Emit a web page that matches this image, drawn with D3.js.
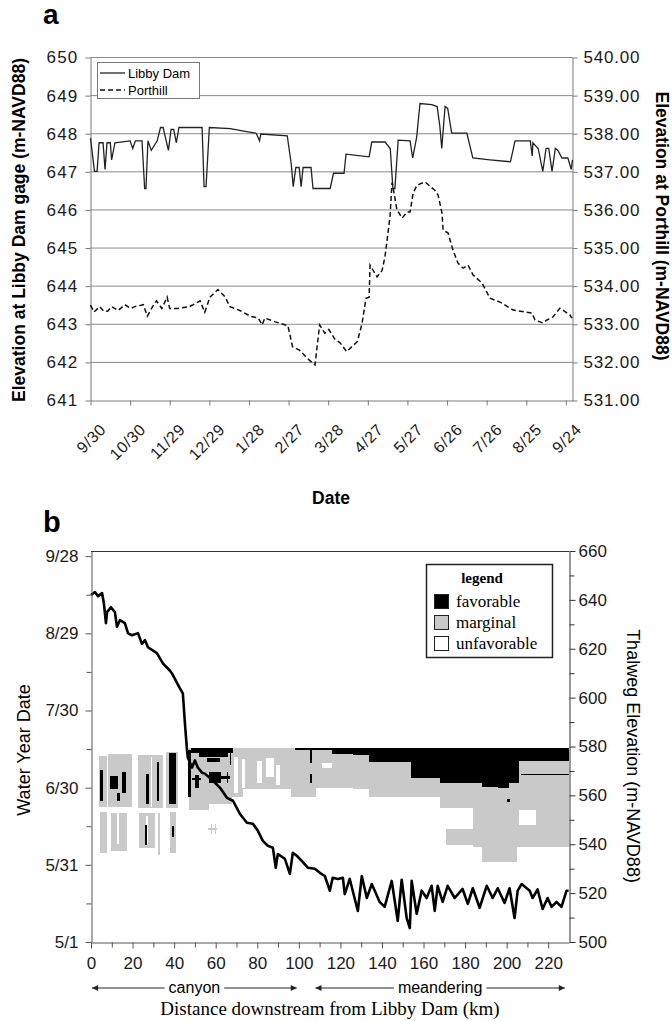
<!DOCTYPE html>
<html>
<head>
<meta charset="utf-8">
<script src="https://cdn.jsdelivr.net/npm/d3@7"></script>
<style>
body { margin: 0; background: #fff; }
</style>
</head>
<body>
<svg id="chart" width="672" height="1021"></svg>
<script>
//Panel a data: day counted from 9/30, elevation in m
var dateTicks = [0, 30, 60, 90, 120, 150, 180, 210, 240, 270, 300, 330, 360]
var dateLabels = ["9/30", "10/30", "11/29", "12/29", "1/28", "2/27", "3/28", "4/27", "5/27", "6/26", "7/26", "8/25", "9/24"]
var libbyTicks = [641, 642, 643, 644, 645, 646, 647, 648, 649, 650]
var porthillTicks = [531, 532, 533, 534, 535, 536, 537, 538, 539, 540]

var libbyDam = [[0,647.87],[3,647.0],[5,647.0],[6.5,647.75],[9.5,647.75],[11,647.05],[12.5,647.75],[15,647.75],[16,647.3],[18.5,647.75],
  [30,647.8],[32,647.6],[34,647.8],[39,647.8],[41,646.55],[42,646.55],[43.5,647.8],[46,647.55],[50.5,647.8],[53,648.15],
  [55,648.15],[59,647.55],[61,648.1],[63,648.1],[65,647.75],[67,648.15],[84.5,648.15],[86,646.6],[87.5,646.6],[90,648.15],
  [106,648.12],[117,648.05],[125.5,648.0],[128,647.8],[129,647.98],[149,647.93],[152,647.2],[153.5,646.6],[155.5,647.1],[158,647.1],
  [159.5,646.6],[161,647.1],[167,647.1],[168.5,646.55],[181.5,646.55],[184,646.95],[192,646.95],[193.5,647.45],[211,647.38],[213,647.77],
  [223,647.77],[227,647.6],[229,646.55],[230.5,646.55],[233,647.82],[242,647.8],[244,647.35],[247,647.9],[249.5,648.78],[258.5,648.75],
  [262.5,648.7],[264.5,648.2],[266,647.6],[268.5,648.7],[270.5,648.65],[273.5,648.0],[285,648.0],[289.5,647.35],[302.5,647.3],[318,647.25],
  [321.5,647.8],[333,647.8],[334.5,647.4],[335,647.75],[339,647.6],[342.5,647.0],[345,647.6],[347,647.6],[349.5,647.0],[352,647.6],
  [354,647.55],[357,647.35],[361.5,647.35],[364,647.05],[365,647.3]]

var porthill = [[0,533.49],[2.7,533.31],[7,533.45],[10,533.33],[13,533.33],[16,533.45],[21,533.35],[26,533.5],[30.5,533.4],[33.5,533.45],
  [40,533.5],[43,533.2],[47,533.45],[50,533.6],[54,533.4],[58,533.7],[60,533.4],[66,533.4],[75,533.45],[83,533.6],
  [86.5,533.3],[90.5,533.7],[96.5,533.9],[102,533.7],[105.5,533.45],[113,533.35],[121,533.2],[127,533.15],[130,532.97],[132,533.15],
  [140,533.05],[149.5,532.95],[153,532.4],[158.5,532.3],[164,532.1],[170,531.92],[173.5,532.97],[177.5,532.75],[180.5,532.85],[185,532.6],
  [189,532.5],[194,532.27],[202,532.53],[205.6,533.0],[208.6,533.67],[211,533.7],[211.7,534.54],[217,534.23],[220.8,534.4],[223,534.76],
  [226.8,535.8],[228.3,536.7],[229,536.6],[232,536.0],[235.9,535.77],[239.7,535.93],[242,535.93],[244.3,536.43],[247.3,536.64],[253.3,536.72],
  [260.9,536.5],[263.2,536.38],[266.2,535.9],[267,535.46],[270.8,535.38],[274.5,534.93],[278.3,534.59],[282.1,534.46],[285.9,534.54],[289.7,534.28],
  [296.5,534.07],[302.5,533.67],[310.1,533.57],[320,533.36],[329,533.31],[334.3,533.28],[336.6,533.1],[342.6,533.02],[345.7,533.1],[350.2,533.18],
  [355.5,533.41],[363.1,533.23],[364.6,533.15]]

//Panel b data: km downstream, day counted from 5/1, thalweg elevation in m
var kmTicks = [0, 20, 40, 60, 80, 100, 120, 140, 160, 180, 200, 220]
var kmMinor = [10, 30, 50, 70, 90, 110, 130, 150, 170, 190, 210]
var wyTicks = [0, 30, 60, 90, 120, 150]
var wyLabels = ["5/1", "5/31", "6/30", "7/30", "8/29", "9/28"]
var wyMinor = [15, 45, 75, 105, 135]
var elevTicks = [500, 520, 540, 560, 580, 600, 620, 640, 660]
var elevMinor = [510, 530, 550, 570, 590, 610, 630, 650]

var thalweg = [[0,642],[1.9,643.2],[3.4,641.5],[5.3,642.8],[6.2,638.6],[7.2,630.5],[7.7,635],[9.6,637],[11.5,635],[12.5,629],
  [13.9,631.7],[16.3,630.5],[17.8,626.4],[19.7,625.5],[22.6,626.4],[24.5,622],[26,623.5],[27.4,620.6],[31.7,618.2],[34.6,614],
  [38,611],[38.9,610],[42.8,603.8],[44.2,601.7],[45.2,589.4],[46.2,578.4],[46.6,575.5],[48.6,571.4],[50,574.3],[51.4,571.4],
  [53.4,569.3],[54.8,568.9],[58.7,566],[62,563.2],[65.4,559],[68.3,557.8],[71.6,552.5],[75,548.8],[77.9,548.4],[80.3,545.5],
  [82.7,541.4],[85.1,539.4],[87.5,538.6],[88.9,530.4],[89.9,536],[93.3,534],[95.7,527.9],[97.1,536.5],[99,535.3],[101.4,533.2],
  [104.3,530.4],[107.7,530],[110.1,528.3],[112.5,527],[114.9,521],[116.3,526.3],[118.8,525.8],[121.2,526.3],[122.1,519.6],[124.5,525.8],
  [128.4,512.7],[130.3,527],[132.7,518],[135.1,523.7],[138.9,516.4],[141.3,514.4],[144.7,525],[147.6,508.6],[149.5,525.5],[151.9,509.8],
  [153.4,505.7],[154.3,525],[156.7,511.5],[159.1,521],[161.5,518],[163.9,523],[165.4,512.7],[166.8,523],[169.2,516.4],[171.6,523],
  [175,518],[178.8,521.7],[181.3,515.6],[183.7,522],[187,514],[190.4,523],[193.3,518],[195.7,522],[199,516],[201.4,522],
  [203.8,509.8],[205.3,521],[207.2,523.7],[211.1,521],[212.5,518],[214.9,521.5],[217.3,513.5],[219.7,518],[221.6,514.4],[224,516.4],
  [226.4,514.4],[228.8,521],[229.8,521]]

//Habitat patches: [km from, km to, day from, day to, class]  m = marginal, f = favorable, u = unfavorable
var habitat = [
  [3.9,7.5,52.5,72.5,"m"],[8,19.5,52.5,73,"m"],[22.5,34.5,52,72.8,"m"],[36.2,42,52,74,"m"],
  [4.3,7.5,34.6,50.5,"m"],[9.5,17.2,35.5,50,"m"],[23,31,36.5,50,"m"],[32,33,34,50,"m"],[38,41,34.5,50.5,"m"],
  [12.5,13.3,38,50,"u"],[26.5,27.2,38,49,"u"],[28.8,29.4,52.5,72,"u"],
  [56.5,60.5,43.6,44.4,"m"],[57.5,58.2,42,46,"m"],[59.5,60.2,42,46,"m"],
  [47,57,51.5,75.3,"m"],[57,68,53.5,75.3,"m"],[68,73,56.5,75.3,"m"],[73,96,59.5,75.3,"m"],[96,108.5,56.5,75.3,"m"],
  [108.5,126,60,75.3,"m"],[126,134,59.5,75.3,"m"],[134,168,56.5,75.3,"m"],[168,184,52,75.3,"m"],[184,230,37,75.3,"m"],
  [171,184,37.7,44,"m"],[188,205,31,37,"m"],
  [69,70.5,58,72,"u"],[72.5,74,60,71,"u"],[80,82.5,62,70.5,"u"],[84,88,64,71.5,"u"],[89,91,61,69,"u"],
  [111,116,67.5,69.5,"u"],[206,214,45.5,51.3,"u"],
  [4.3,5.8,55,67,"f"],[9,13,59.5,64.4,"f"],[12.5,14,55,58,"f"],[15,17,57.8,66,"f"],[26.7,27.7,53.5,65.5,"f"],
  [31.7,32.7,55,70,"f"],[37.5,41,53.5,73.5,"f"],[26,27,37.7,45.5,"f"],[39,40,41,45,"f"],
  [46.6,48.3,56.4,74.6,"f"],[48,68.3,73.3,75.3,"f"],[52,66,72,73.3,"f"],[56,62,70,71.5,"f"],[57,62.5,61.8,66,"f"],
  [62.5,67,63.5,64.5,"f"],[65.3,66,62,66,"f"],[50,52,60,65,"f"],[48.7,53,63,63.8,"f"],[66.8,67.5,68.8,74,"f"],
  [98,118,74.5,75.3,"f"],[105.5,106.5,69.5,75,"f"],[105.5,106.5,62,65.5,"f"],[116,126,73,75.3,"f"],[126,134,72.7,75.3,"f"],
  [134,154,70,75.3,"f"],[154,168,63.6,75.3,"f"],[168,188,61.8,75.3,"f"],[188,196,60.4,75.3,"f"],[196,201,60,75.3,"f"],
  [201,206,62,75.3,"f"],[206,230,70.4,75.3,"f"],[207,230,64.8,65.4,"f"],[200,201.5,54.6,55.4,"f"]
]
var habitatColor = {"m": "#c9c9c9", "f": "#000", "u": "#fff"}
var legendItems = [["f", "favorable"], ["m", "marginal"], ["u", "unfavorable"]]
var reaches = [{name: "canyon", from: 0.5, to: 99}, {name: "meandering", from: 108, to: 228}]

var sans = "'Liberation Sans', Arial, sans-serif"
var serif = "'Liberation Serif', 'Times New Roman', serif"
var svg = d3.select("#chart")

//Styles an axis group the same way every time
function styleAxis(g, color, size, spacing) {
  g.attr("font-family", sans).attr("font-size", size)
  g.select(".domain").attr("stroke", color)
  g.selectAll(".tick line").attr("stroke", color)
  g.selectAll(".tick text").attr("fill", "#1a1a1a").attr("letter-spacing", spacing || 0)
}

//PANEL A
var A = {left: 90.5, right: 572.5, top: 57, bottom: 400}
var xA = d3.scaleLinear().domain([0, 365]).range([A.left, A.right])
var yLibby = d3.scaleLinear().domain([641, 650]).range([A.bottom, A.top])
var yPort = d3.scaleLinear().domain([531, 540]).range([A.bottom, A.top])

//grid lines
svg.append("g").selectAll("line")
  .data(libbyTicks.slice(1))
  .enter().append("line")
  .attr("x1", A.left).attr("x2", A.right)
  .attr("y1", function(d){ return yLibby(d) + 0.5 })
  .attr("y2", function(d){ return yLibby(d) + 0.5 })
  .attr("stroke", "#8a8a8a").attr("stroke-width", 1)

var axLa = svg.append("g").attr("transform", "translate(" + A.left + ",0.5)")
  .call(d3.axisLeft(yLibby).tickValues(libbyTicks).tickSize(5).tickSizeOuter(0).tickPadding(7).tickFormat(d3.format("d")))
styleAxis(axLa, "#7a7a7a", 17, 1.2)

var axRa = svg.append("g").attr("transform", "translate(" + A.right + ",0.5)")
  .call(d3.axisRight(yPort).tickValues(porthillTicks).tickSize(5).tickSizeOuter(0).tickPadding(6).tickFormat(d3.format(".2f")))
styleAxis(axRa, "#7a7a7a", 17, 0.8)

var axBa = svg.append("g").attr("transform", "translate(0," + (A.bottom + 0.5) + ")")
  .call(d3.axisBottom(xA).tickValues(dateTicks).tickSize(5).tickSizeOuter(0).tickFormat(function(d, i){ return dateLabels[i] }))
styleAxis(axBa, "#7a7a7a", 16, 0.6)
axBa.selectAll(".tick text")
  .attr("y", 0).attr("dy", 0)
  .attr("text-anchor", "end")
  .attr("transform", "translate(16,30) rotate(-45)")

var lineA = d3.line()
  .x(function(d){ return xA(d[0]) })

svg.append("path")
  .datum(libbyDam)
  .attr("d", lineA.y(function(d){ return yLibby(d[1]) }))
  .attr("fill", "none").attr("stroke", "#222").attr("stroke-width", 1.3)

svg.append("path")
  .datum(porthill)
  .attr("d", lineA.y(function(d){ return yPort(d[1]) }))
  .attr("fill", "none").attr("stroke", "#111").attr("stroke-width", 1.5)
  .attr("stroke-dasharray", "5,3")

//legend of panel a
var legA = svg.append("g").attr("font-family", sans).attr("font-size", 13)
legA.append("rect").attr("x", 97.5).attr("y", 62.5).attr("width", 102).attr("height", 36)
  .attr("fill", "#fff").attr("stroke", "#777")
legA.append("line").attr("x1", 100).attr("x2", 125).attr("y1", 73).attr("y2", 73).attr("stroke", "#222").attr("stroke-width", 1.3)
legA.append("line").attr("x1", 100).attr("x2", 125).attr("y1", 90).attr("y2", 90).attr("stroke", "#111").attr("stroke-width", 1.5).attr("stroke-dasharray", "5,3")
legA.append("text").attr("x", 128).attr("y", 77.5).text("Libby Dam")
legA.append("text").attr("x", 128).attr("y", 94.5).text("Porthill")

//titles of panel a
svg.append("text").attr("x", 43).attr("y", 24).attr("font-family", sans).attr("font-weight", "bold").attr("font-size", 28).text("a")
svg.append("text").attr("transform", "translate(25,230) rotate(-90)").attr("text-anchor", "middle")
  .attr("font-family", sans).attr("font-weight", "bold").attr("font-size", 17.5).text("Elevation at Libby Dam gage (m-NAVD88)")
svg.append("text").attr("transform", "translate(656,226) rotate(90)").attr("text-anchor", "middle")
  .attr("font-family", sans).attr("font-weight", "bold").attr("font-size", 17.5).text("Elevation at Porthill (m-NAVD88)")
svg.append("text").attr("x", 331).attr("y", 504).attr("text-anchor", "middle")
  .attr("font-family", sans).attr("font-weight", "bold").attr("font-size", 17.5).text("Date")

//PANEL B
var B = {left: 91, right: 569, top: 551, bottom: 942}
var xB = d3.scaleLinear().domain([0, 230]).range([B.left, B.right])
var yDay = d3.scaleLinear().domain([0, 152]).range([B.bottom, B.top])
var yElev = d3.scaleLinear().domain([500, 660]).range([B.bottom, B.top])

//habitat cells
svg.append("g").selectAll("rect")
  .data(habitat)
  .enter().append("rect")
  .attr("x", function(d){ return xB(d[0]) })
  .attr("width", function(d){ return xB(d[1]) - xB(d[0]) })
  .attr("y", function(d){ return yDay(d[3]) })
  .attr("height", function(d){ return yDay(d[2]) - yDay(d[3]) })
  .attr("fill", function(d){ return habitatColor[d[4]] })
  .attr("shape-rendering", "crispEdges")

//thalweg profile
svg.append("path")
  .datum(thalweg)
  .attr("d", d3.line().x(function(d){ return xB(d[0]) }).y(function(d){ return yElev(d[1]) }))
  .attr("fill", "none").attr("stroke", "#000").attr("stroke-width", 2.6).attr("stroke-linejoin", "round")

//frame top
svg.append("line").attr("x1", B.left).attr("x2", B.right).attr("y1", B.top + 0.5).attr("y2", B.top + 0.5)
  .attr("stroke", "#333").attr("stroke-width", 1.2)

var axLb = svg.append("g").attr("transform", "translate(" + (B.left + 0.5) + ",0)")
  .call(d3.axisLeft(yDay).tickValues(wyTicks).tickSize(6).tickSizeOuter(0).tickPadding(7).tickFormat(function(d, i){ return wyLabels[i] }))
styleAxis(axLb, "#555", 17)
svg.append("g").attr("transform", "translate(" + (B.left + 0.5) + ",0)")
  .call(d3.axisLeft(yDay).tickValues(wyMinor).tickSize(5).tickFormat(""))
  .call(function(g){ g.select(".domain").remove(); g.selectAll("line").attr("stroke", "#555") })

var axBb = svg.append("g").attr("transform", "translate(0," + (B.bottom + 0.5) + ")")
  .call(d3.axisBottom(xB).tickValues(kmTicks).tickSize(6).tickSizeOuter(0).tickPadding(8))
styleAxis(axBb, "#555", 17)
svg.append("g").attr("transform", "translate(0," + (B.bottom + 0.5) + ")")
  .call(d3.axisBottom(xB).tickValues(kmMinor).tickSize(5).tickFormat(""))
  .call(function(g){ g.select(".domain").remove(); g.selectAll("line").attr("stroke", "#555") })

var axRb = svg.append("g").attr("transform", "translate(" + (B.right + 0.5) + ",0)")
  .call(d3.axisRight(yElev).tickValues(elevTicks).tickSize(6).tickSizeOuter(0).tickPadding(3))
styleAxis(axRb, "#333", 17)
svg.append("g").attr("transform", "translate(" + (B.right + 0.5) + ",0)")
  .call(d3.axisRight(yElev).tickValues(elevMinor).tickSize(5).tickFormat(""))
  .call(function(g){ g.select(".domain").remove(); g.selectAll("line").attr("stroke", "#333") })

//legend of panel b
var legB = svg.append("g").attr("font-family", serif)
legB.append("rect").attr("x", 426.5).attr("y", 564.5).attr("width", 126).attr("height", 93)
  .attr("fill", "#fff").attr("stroke", "#222").attr("stroke-width", 1.5)
legB.append("text").attr("x", 482).attr("y", 583).attr("text-anchor", "middle")
  .attr("font-weight", "bold").attr("font-size", 15).text("legend")
var legRows = legB.selectAll(".leg").data(legendItems).enter().append("g")
  .attr("transform", function(d, i){ return "translate(434," + (594 + i * 21) + ")" })
legRows.append("rect").attr("x", 0.5).attr("y", 0.5).attr("width", 14).attr("height", 14)
  .attr("fill", function(d){ return habitatColor[d[0]] }).attr("stroke", "#222")
legRows.append("text").attr("x", 22).attr("y", 12.5).attr("font-size", 17).text(function(d){ return d[1] })

//reach arrows under the axis
var defs = svg.append("defs")
defs.append("marker").attr("id", "arrow").attr("viewBox", "0 0 10 10").attr("refX", 10).attr("refY", 5)
  .attr("markerWidth", 8).attr("markerHeight", 6).attr("markerUnits", "userSpaceOnUse").attr("orient", "auto")
  .append("path").attr("d", "M0,0L10,5L0,10z").attr("fill", "#222")

var reachG = svg.selectAll(".reach").data(reaches).enter().append("g")
reachG.each(function(d){
  var g = d3.select(this)
  var mid = (xB(d.from) + xB(d.to)) / 2
  var label = g.append("text").attr("x", mid).attr("y", 993).attr("text-anchor", "middle")
    .attr("font-family", sans).attr("font-size", 16).text(d.name)
  var half = label.node().getComputedTextLength() / 2 + 4
  g.append("line").attr("x1", mid - half).attr("x2", xB(d.from)).attr("y1", 988).attr("y2", 988)
    .attr("stroke", "#222").attr("marker-end", "url(#arrow)")
  g.append("line").attr("x1", mid + half).attr("x2", xB(d.to)).attr("y1", 988).attr("y2", 988)
    .attr("stroke", "#222").attr("marker-end", "url(#arrow)")
})

//titles of panel b
svg.append("text").attr("x", 43).attr("y", 532).attr("font-family", sans).attr("font-weight", "bold").attr("font-size", 29).text("b")
svg.append("text").attr("transform", "translate(30,750) rotate(-90)").attr("text-anchor", "middle")
  .attr("font-family", sans).attr("font-size", 18).text("Water Year Date")
svg.append("text").attr("transform", "translate(627,756) rotate(90)").attr("text-anchor", "middle")
  .attr("font-family", sans).attr("font-size", 18).text("Thalweg Elevation (m-NAVD88)")
svg.append("text").attr("x", 330).attr("y", 1015).attr("text-anchor", "middle")
  .attr("font-family", serif).attr("font-size", 19).text("Distance downstream from Libby Dam (km)")
</script>
</body>
</html>
